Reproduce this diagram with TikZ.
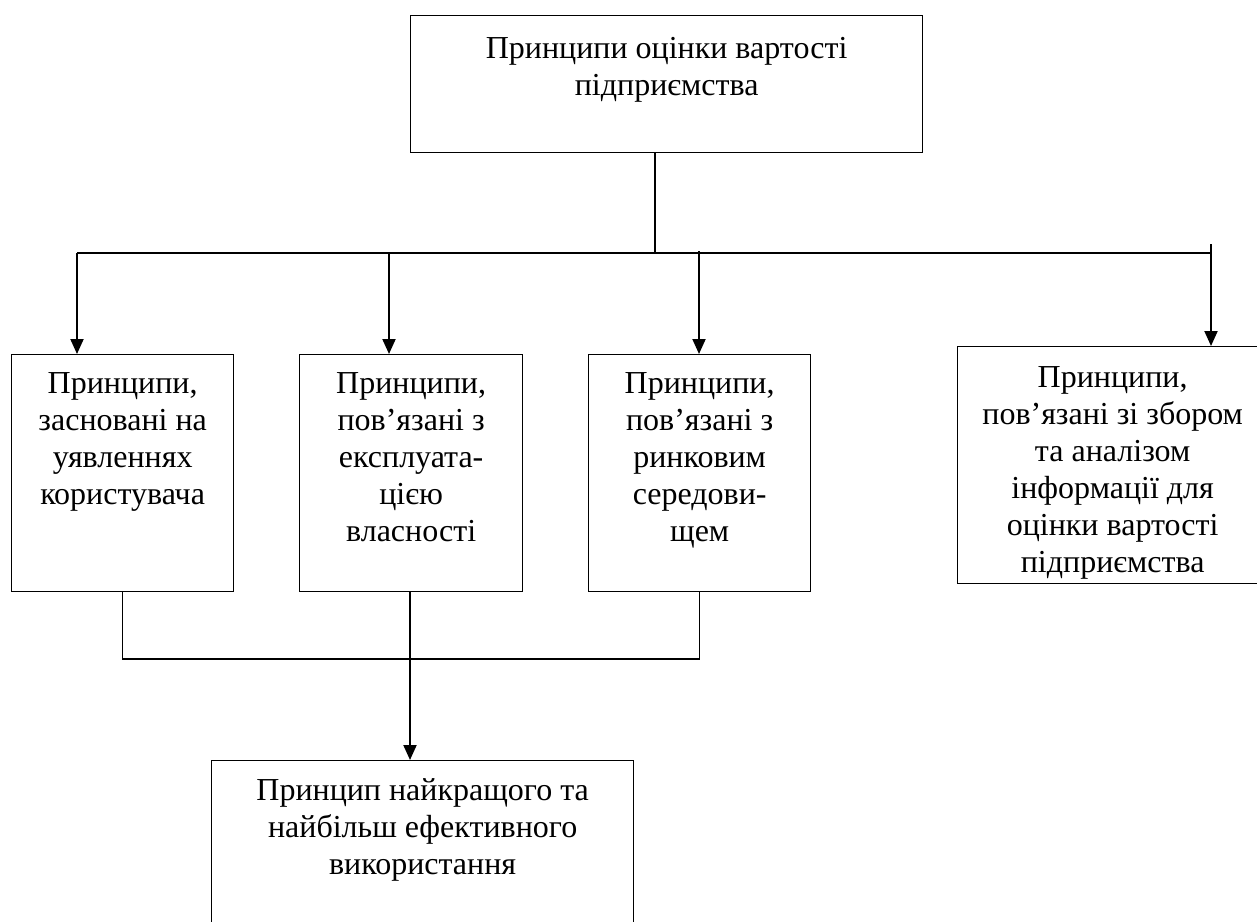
\documentclass[tikz,border=0pt]{standalone}
\usepackage{fontspec}
\setmainfont{Liberation Serif}
\usetikzlibrary{arrows.meta}
\newcommand\boxtxt[4]{\parbox[c][#2][t]{#1}{\centering\rule{0pt}{#3}#4\par}}
\begin{document}
\begin{tikzpicture}[x=1pt,y=-1pt,
  box/.style={draw, line width=1.3pt, inner sep=0pt, anchor=north west,
    font=\fontsize{32}{37}\selectfont},
  conn/.style={line width=1.3pt},
  arr/.style={line width=2pt, -{Triangle[width=13pt,length=15pt]}}]
\useasboundingbox (0,0) rectangle (1257,921);
% boxes
\node[box] (top) at (410,15)
  {\boxtxt{512pt}{137pt}{43pt}{Принципи оцінки вартості\\підприємства}};
\node[box] (b1) at (11,354)
  {\boxtxt{222pt}{237pt}{39pt}{Принципи,\\засновані на\\уявленнях\\користувача}};
\node[box] (b2) at (299,354)
  {\boxtxt{223pt}{237pt}{39pt}{Принципи,\\пов’язані з\\експлуата-\\цією\\власності}};
\node[box] (b3) at (588,354)
  {\boxtxt{222pt}{237pt}{39pt}{Принципи,\\пов’язані з\\ринковим\\середови-\\щем}};
\node[box] (b4) at (957,346)
  {\boxtxt{310pt}{237pt}{41pt}{Принципи,\\пов’язані зі збором\\та аналізом\\інформації для\\оцінки вартості\\підприємства}};
\node[box] (b5) at (211,760)
  {\boxtxt{422pt}{180pt}{40pt}{Принцип найкращого та\\найбільш ефективного\\використання}};
% upper bus
\coordinate (j0) at (655,253);
\coordinate (bL) at (77,253);
\coordinate (bR) at (1211,253);
\coordinate (a2) at (389,253);
\coordinate (a3) at (699,251);
\coordinate (a4) at (1211,244);
\draw[conn] (top.south -| j0) -- (j0);
\draw[conn] (bL) -- (bR);
\draw[arr] (bL) -- (b1.north -| bL);
\draw[arr] (a2) -- (b2.north -| a2);
\draw[arr] (a3) -- (b3.north -| a3);
\draw[arr] (a4) -- (b4.north -| a4);
% lower bus
\coordinate (m) at (410,659);
\draw[conn] (b1.south) |- (m) -| (b3.south);
\draw[conn] (b2.south -| m) -- (m);
\draw[arr] (m) -- (b5.north -| m);
\end{tikzpicture}
\end{document}
